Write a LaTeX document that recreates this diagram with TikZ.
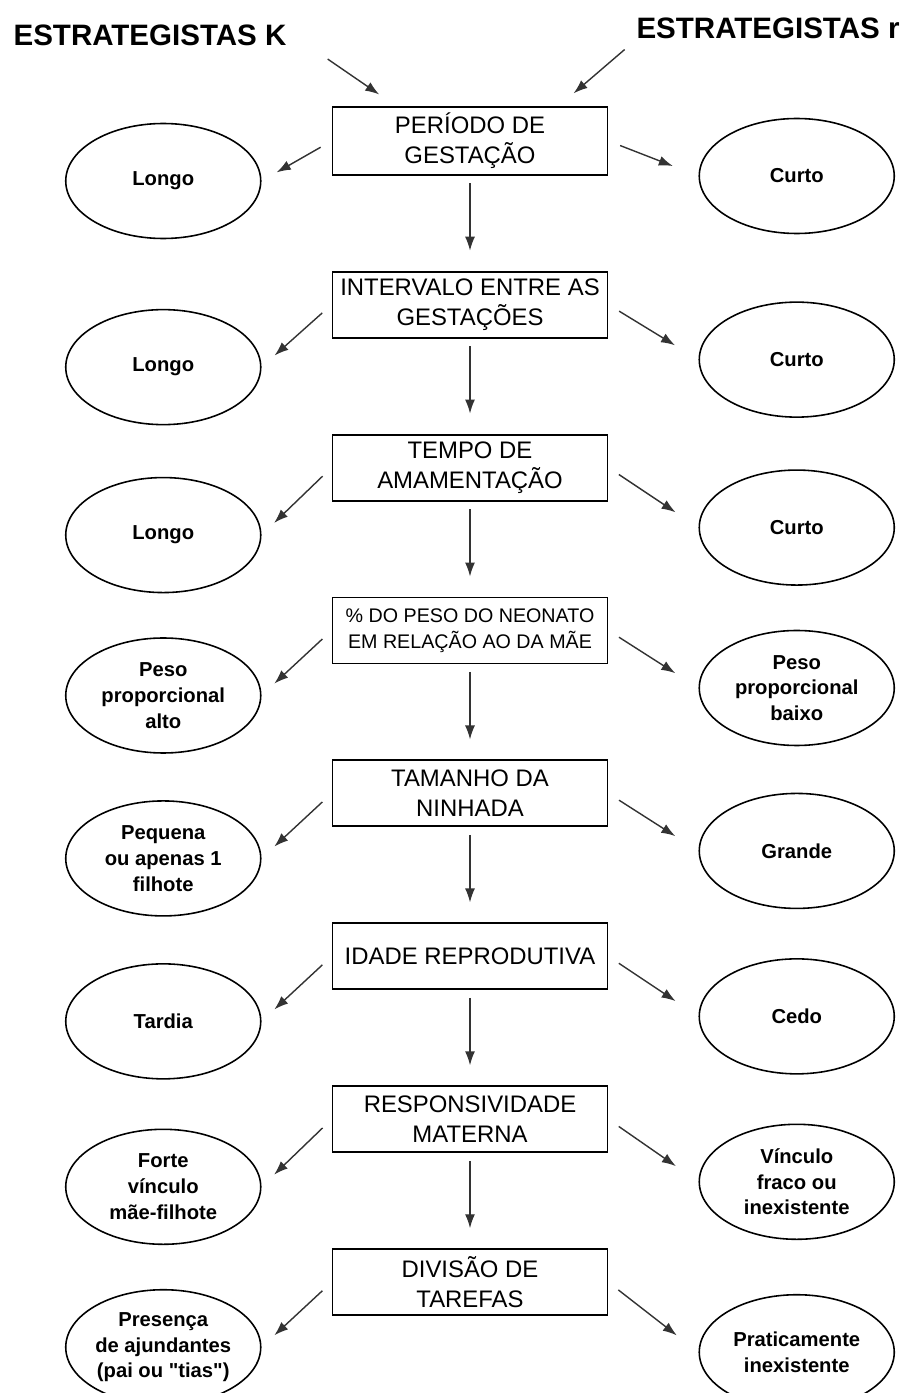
\documentclass[tikz,border=0pt]{standalone}
\usepackage{fontspec}
\setmainfont{Liberation Sans}[Ligatures=TeXOff]
\usetikzlibrary{arrows.meta,shapes,positioning}
\tikzset{
    stage/.style={draw, rectangle, line width=1.1pt, minimum width=5.5cm, minimum height=1.32cm, align=center, font=\fontsize{13.6}{17}\selectfont},
    leaf/.style={draw, ellipse, line width=0.9pt, minimum width=3.9cm, minimum height=2.3cm, inner sep=0pt, align=center, font=\bfseries\fontsize{11.5}{14.7}\selectfont},
    heading/.style={font=\bfseries\fontsize{16.8}{20}\selectfont},
    feed/.style={-{Latex[length=2.8mm, width=2mm]}, thick, black!80},
    down/.style={feed, shorten <=0.15cm, shorten >=0.4cm},
    side/.style={feed, shorten <=0.25cm, shorten >=0.35cm},
    sider/.style={feed, shorten <=0.25cm, shorten >=0.55cm}
}
\begin{document}
\begin{tikzpicture}[node distance=1.9cm]
            \useasboundingbox (0,0) rectangle (18.02,-27.86);
            \node[heading] (estK) at (3.0,-0.7) {ESTRATEGISTAS K};
            \node[heading] (estR) at (15.36,-0.56) {ESTRATEGISTAS r};

            \node[stage] (b1) at (9.4,-2.82) {PERÍODO DE\\GESTAÇÃO};
            \node[stage, below=of b1] (b2) {INTERVALO ENTRE AS\\GESTAÇÕES};
            \node[stage, below=of b2] (b3) {TEMPO DE\\AMAMENTAÇÃO};
            \node[stage, below=of b3, font=\fontsize{11.2}{15}\selectfont] (b4) {\% DO PESO DO NEONATO\\EM RELAÇÃO AO DA MÃE};
            \node[stage, below=of b4] (b5) {TAMANHO DA\\NINHADA};
            \node[stage, below=of b5] (b6) {IDADE REPRODUTIVA};
            \node[stage, below=of b6] (b7) {RESPONSIVIDADE\\MATERNA};
            \node[stage, below=of b7] (b8) {DIVISÃO DE\\TAREFAS};

            \node[leaf, left=1.4cm of b1, yshift=-0.8cm] (l1) {Longo};
            \node[leaf, right=1.8cm of b1, yshift=-0.7cm] (r1) {Curto};
            \node[leaf, left=1.4cm of b2, yshift=-1.25cm] (l2) {Longo};
            \node[leaf, right=1.8cm of b2, yshift=-1.1cm] (r2) {Curto};
            \node[leaf, left=1.4cm of b3, yshift=-1.35cm] (l3) {Longo};
            \node[leaf, right=1.8cm of b3, yshift=-1.2cm] (r3) {Curto};
            \node[leaf, left=1.4cm of b4, yshift=-1.3cm] (l4) {Peso\\proporcional\\alto};
            \node[leaf, right=1.8cm of b4, yshift=-1.15cm] (r4) {Peso\\proporcional\\baixo};
            \node[leaf, left=1.4cm of b5, yshift=-1.3cm] (l5) {Pequena\\ou apenas 1\\filhote};
            \node[leaf, right=1.8cm of b5, yshift=-1.15cm] (r5) {Grande};
            \node[leaf, left=1.4cm of b6, yshift=-1.3cm] (l6) {Tardia};
            \node[leaf, right=1.8cm of b6, yshift=-1.2cm] (r6) {Cedo};
            \node[leaf, left=1.4cm of b7, yshift=-1.35cm] (l7) {Forte\\vínculo\\mãe-filhote};
            \node[leaf, right=1.8cm of b7, yshift=-1.25cm] (r7) {Vínculo\\fraco ou\\inexistente};
            \node[leaf, left=1.4cm of b8, yshift=-1.3cm] (l8) {Presença\\de ajundantes\\(pai ou "tias")};
            \node[leaf, right=1.8cm of b8, yshift=-1.4cm] (r8) {Praticamente\\inexistente};

            \draw[feed, shorten <=0.85cm, shorten >=0.42cm] (estK.east) -- ([xshift=1.3cm]b1.north west);
            \draw[feed, shorten <=0.15cm, shorten >=0.4cm] (estR.south west) -- ([xshift=-1cm]b1.north east);

            \draw[down] (b1) -- (b2);
            \draw[down] (b2) -- (b3);
            \draw[down] (b3) -- (b4);
            \draw[down] (b4) -- (b5);
            \draw[down] (b5) -- (b6);
            \draw[down] (b6) -- (b7);
            \draw[down] (b7) -- (b8);

            \draw[side] (b1.west) -- (l1.east);
            \draw[sider] (b1.east) -- (r1.west);
            \draw[side] (b2.west) -- (l2.east);
            \draw[sider] (b2.east) -- (r2.west);
            \draw[side] (b3.west) -- (l3.east);
            \draw[sider] (b3.east) -- (r3.west);
            \draw[side] (b4.west) -- (l4.east);
            \draw[sider] (b4.east) -- (r4.west);
            \draw[side] (b5.west) -- (l5.east);
            \draw[sider] (b5.east) -- (r5.west);
            \draw[side] (b6.west) -- (l6.east);
            \draw[sider] (b6.east) -- (r6.west);
            \draw[side] (b7.west) -- (l7.east);
            \draw[sider] (b7.east) -- (r7.west);
            \draw[side] (b8.west) -- (l8.east);
            \draw[sider] (b8.east) -- (r8.west);
        \end{tikzpicture}
\end{document}
